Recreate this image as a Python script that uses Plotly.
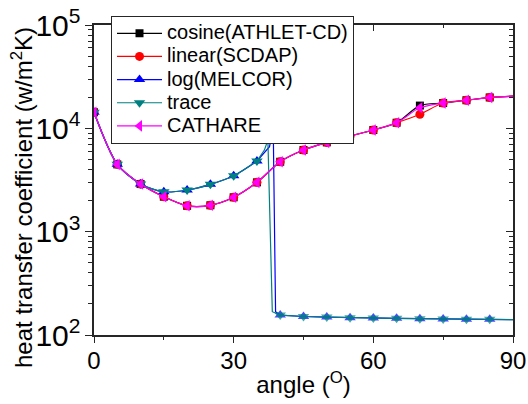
import plotly.graph_objects as go

# ---------------- data ----------------
angle_markers = [0, 5, 10, 15, 20, 25, 30, 35, 40, 45, 50, 55, 60, 65, 70, 75, 80, 85]
angle_end = 90

cosine_vals = [14300, 4480, 2890, 2180, 1780, 1800, 2150, 3000, 4750, 6170, 7310, 8420, 9630, 11330, 16600, 17570, 18700, 19900]
linear_vals = [14300, 4480, 2890, 2180, 1780, 1800, 2150, 3000, 4750, 6170, 7310, 8420, 9630, 11330, 13700, 17570, 18700, 19900]
cathare_vals = [14300, 4480, 2890, 2180, 1780, 1800, 2150, 3000, 4750, 6170, 7310, 8420, 9630, 11330, 15800, 17570, 18700, 19900]
lower_end_val = 20500

# upper curves: smooth part 0..35 deg
head_angles = [0, 5, 10, 15, 20, 25, 30, 35]
log_head = [14300, 4480, 2890, 2430, 2530, 2870, 3475, 4820]
trace_head = [14300, 4480, 2890, 2430, 2530, 2870, 3475, 4820]

# upper curves: rise + sudden drop (line only points)
log_jump_angles = [37.7, 38.5, 39.0]
log_jump_vals = [6640, 10000, 168]
trace_jump_angles = [36.6, 37.35, 38.3]
trace_jump_vals = [6160, 7710, 168]

# upper curves: tail 40..85 deg
tail_angles = [40, 45, 50, 55, 60, 65, 70, 75, 80, 85]
log_tail = [156, 151, 149, 147, 146, 145, 144, 143, 142, 142]
trace_tail = [156, 151, 149, 147, 146, 145, 144, 143, 142, 142]
upper_end_val = 141

names = ["cosine(ATHLET-CD)", "linear(SCDAP)", "log(MELCOR)", "trace", "CATHARE"]
colors = ["#000000", "#FF0000", "#0000FF", "#008080", "#FF00FF"]
symbols = ["square", "circle", "triangle-up", "triangle-down", "triangle-left"]
msizes = [8, 9, 10, 10, 10]

FONT = "Arial, Liberation Sans, sans-serif"
LEG_TEXT = '<span style="font-size:20px">%s</span>'

fig = go.Figure()


def lower_trace(i, vals):
    fig.add_trace(go.Scatter(
        x=angle_markers, y=vals, name=LEG_TEXT % names[i], mode="lines+markers",
        line=dict(color=colors[i], width=1.2, shape="spline", smoothing=0.8),
        marker=dict(symbol=symbols[i], size=msizes[i], color=colors[i], line=dict(width=0)),
        legendgroup=names[i]))
    # line continues to 90 deg without a marker
    fig.add_trace(go.Scatter(
        x=[angle_markers[-1], angle_end], y=[vals[-1], lower_end_val], mode="lines",
        showlegend=False, hoverinfo="skip", legendgroup=names[i],
        line=dict(color=colors[i], width=1.2)))


def upper_trace(i, head, jx, jy, tail):
    fig.add_trace(go.Scatter(
        x=head_angles, y=head, name=LEG_TEXT % names[i], mode="lines+markers",
        line=dict(color=colors[i], width=1.2, shape="spline", smoothing=0.8),
        marker=dict(symbol=symbols[i], size=msizes[i], color=colors[i], line=dict(width=0)),
        legendgroup=names[i]))
    xs = [head_angles[-1]] + jx + tail_angles + [angle_end]
    ys = [head[-1]] + jy + tail + [upper_end_val]
    sizes = [0] * (1 + len(jx)) + [msizes[i]] * len(tail_angles) + [0]
    fig.add_trace(go.Scatter(
        x=xs, y=ys, name=names[i], mode="lines+markers", showlegend=False,
        line=dict(color=colors[i], width=1.2),
        marker=dict(symbol=symbols[i], size=sizes, color=colors[i], line=dict(width=0)),
        legendgroup=names[i]))


lower_trace(0, cosine_vals)
lower_trace(1, linear_vals)
upper_trace(2, log_head, log_jump_angles, log_jump_vals, log_tail)
upper_trace(3, trace_head, trace_jump_angles, trace_jump_vals, trace_tail)
lower_trace(4, cathare_vals)

# empty trace to activate the mirrored (top/right) axes
fig.add_trace(go.Scatter(x=[], y=[], xaxis="x2", yaxis="y2", showlegend=False, hoverinfo="skip"))

axis_col = "#262626"

fig.update_layout(
    width=528, height=404,
    margin=dict(l=94, r=15, t=25, b=69),
    paper_bgcolor="white", plot_bgcolor="white",
    font=dict(family=FONT, color="black"),
    showlegend=True,
    legend=dict(x=0.0406, y=1.03, xanchor="left", yanchor="top",
                bgcolor="white", bordercolor=axis_col, borderwidth=1,
                font=dict(size=15.5, family=FONT), tracegroupgap=0,
                itemwidth=45),
    xaxis=dict(range=[0, 90], tick0=0, dtick=30, ticks="outside", ticklen=6, tickwidth=1.3,
               tickcolor=axis_col, showline=True, linecolor=axis_col, linewidth=1.5,
               showgrid=False, zeroline=False, mirror=False,
               tickfont=dict(size=24, family=FONT), ticklabelstandoff=-3,
               minor=dict(dtick=15, ticks="outside", ticklen=3, tickcolor=axis_col, showgrid=False),
               title=dict(text="angle (<sup>O</sup>)", font=dict(size=24, family=FONT), standoff=4),
               automargin=False),
    yaxis=dict(type="log", range=[2, 5], dtick=1, exponentformat="power", ticks="outside",
               ticklen=7, tickwidth=1.3, tickcolor=axis_col, showline=True, linecolor=axis_col,
               linewidth=1.5, showgrid=False, zeroline=False, mirror=False,
               tickfont=dict(size=24, family=FONT),
               minor=dict(dtick="D1", ticks="outside", ticklen=4, tickcolor=axis_col, showgrid=False),
               automargin=False),
    xaxis2=dict(overlaying="x", side="top", anchor="y2", range=[0, 90], tick0=0, dtick=30,
                ticks="inside", ticklen=6, tickwidth=1.3, tickcolor=axis_col,
                showline=True, linecolor=axis_col, linewidth=1.5, showgrid=False,
                zeroline=False, showticklabels=False,
                minor=dict(dtick=15, ticks="inside", ticklen=3, tickcolor=axis_col, showgrid=False)),
    yaxis2=dict(overlaying="y", side="right", anchor="x2", type="log", range=[2, 5], dtick=1,
                ticks="inside", ticklen=7, tickwidth=1.3, tickcolor=axis_col,
                showline=True, linecolor=axis_col, linewidth=1.5, showgrid=False,
                zeroline=False, showticklabels=False,
                minor=dict(dtick="D1", ticks="inside", ticklen=4, tickcolor=axis_col, showgrid=False)),
    annotations=[dict(text="heat transfer coefficient (w/m<sup>2</sup>K)", textangle=-90,
                      xref="paper", yref="paper", x=-0.172, y=0.445,
                      xanchor="center", yanchor="middle", showarrow=False,
                      font=dict(size=24, family=FONT, color="black"))],
)

fig.write_html("out.html")
